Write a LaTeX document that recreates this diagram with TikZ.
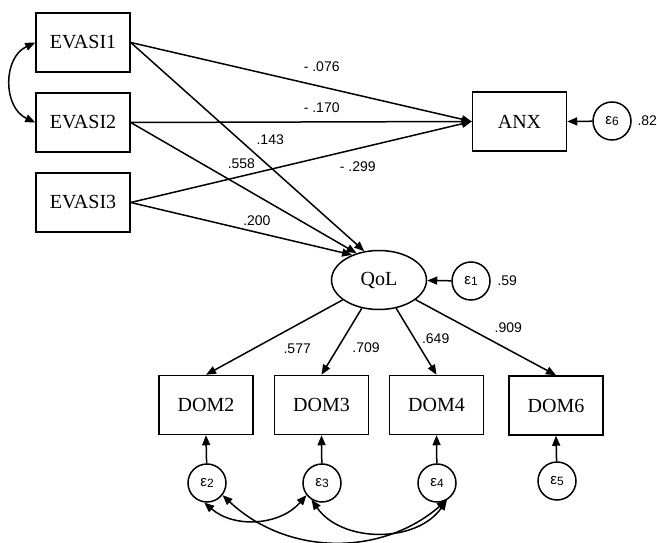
\documentclass[tikz,border=0pt]{standalone}
\usepackage{fontspec}
\setmainfont{Liberation Serif}
\newfontfamily\numfont{Liberation Sans}
\usetikzlibrary{arrows.meta,positioning,shapes.geometric}
\newcommand{\epsl}[1]{{\numfont\fontsize{15}{15}\selectfont ε\raisebox{-1.5pt}{\fontsize{12}{12}\selectfont #1}}}

\begin{document}
\begin{tikzpicture}[x=1pt,y=-1pt,line width=1.5pt,
    >={Triangle[length=10pt,width=8pt]}]
  \tikzstyle{obs}=[rectangle,draw,minimum width=94pt,minimum height=59pt,inner sep=0pt,font=\fontsize{20}{20}\selectfont]
  \tikzstyle{lat}=[ellipse,draw,minimum width=95pt,minimum height=59pt,inner sep=0pt,font=\fontsize{20}{20}\selectfont]
  \tikzstyle{err}=[circle,draw,minimum size=38pt,inner sep=0pt]
  \tikzstyle{coef}=[font=\numfont\fontsize{14}{14}\selectfont,inner sep=1pt]
  \useasboundingbox (0,0) rectangle (657,543);

  % Observed and latent nodes
  \node[obs] (ev1)  at (83,42.5)    {EVASI1};
  \node[obs] (ev2)  at (83,122.5)   {EVASI2};
  \node[obs] (ev3)  at (83,202.5)   {EVASI3};
  \node[obs] (anx)  at (519.5,121.5) {ANX};
  \node[lat] (qol)  at (379,280)    {QoL};
  \node[obs] (dom2) at (206,405)    {DOM2};
  \node[obs] (dom3) at (321.5,405)  {DOM3};
  \node[obs] (dom4) at (436.5,405)  {DOM4};
  \node[obs] (dom6) at (556,405.5)  {DOM6};

  % Error terms
  \node[err,label={[coef,label distance=4pt]right:.82}] (e6) at (612,121) {\epsl{6}};
  \node[err,label={[coef,label distance=5pt]right:.59}] (e1) at (471,281) {\epsl{1}};
  \node[err] (e2) at (207,483) {\epsl{2}};
  \node[err] (e3) at (322,483) {\epsl{3}};
  \node[err] (e4) at (437,483) {\epsl{4}};
  \node[err] (e5) at (557,481) {\epsl{5}};

  % Paths to ANX
  \path[->] (ev1.east) edge node[coef,pos=.56,above=13pt] {- .076} (anx.west);
  \path[->] (ev2.east) edge node[coef,pos=.56,above=8pt]  {- .170} (anx.west);
  \path[->] (ev3.east) edge node[coef,pos=.666,below=11.5pt] {- .299} (anx.west);

  % Paths to QoL
  \path[->] (ev1.east) edge node[coef,pos=.467,right=15pt] {.143} (qol.117);
  \path[->] (ev2.east) edge node[coef,pos=.49,above=16pt]  {.558} (qol.130);
  \path[->] (ev3.east) edge node[coef,pos=.57,above=5pt]   {.200} (qol.137);

  % Loadings
  \path[->] (qol) edge node[coef,pos=.65,right=28pt] {.577} (dom2.north);
  \path[->] (qol) edge node[coef,pos=.6,right=13pt]  {.709} (dom3.north);
  \path[->] (qol) edge node[coef,pos=.45,right=6pt]  {.649} (dom4.north);
  \path[->] (qol) edge node[coef,pos=.66,above=15pt] {.909} (dom6.north);

  % Errors
  \path[->] (e6) edge (anx.east);
  \path[->] (e1) edge (qol);
  \path[->] (e2) edge (dom2.south);
  \path[->] (e3) edge (dom3.south);
  \path[->] (e4) edge (dom4.south);
  \path[->] (e5) edge (dom6.south);

  % Covariances
  \path[<->] (ev1.west) edge[bend right=65,looseness=1.15] (ev2.west);
  \path[<->] (e2.262) edge[bend right=45] (e3.218);
  \path[<->] (e3.238) edge[bend right=55] (e4.300);
  \path[<->] (e2.322) edge[bend right=42] (e4.300);
\end{tikzpicture}
\end{document}
